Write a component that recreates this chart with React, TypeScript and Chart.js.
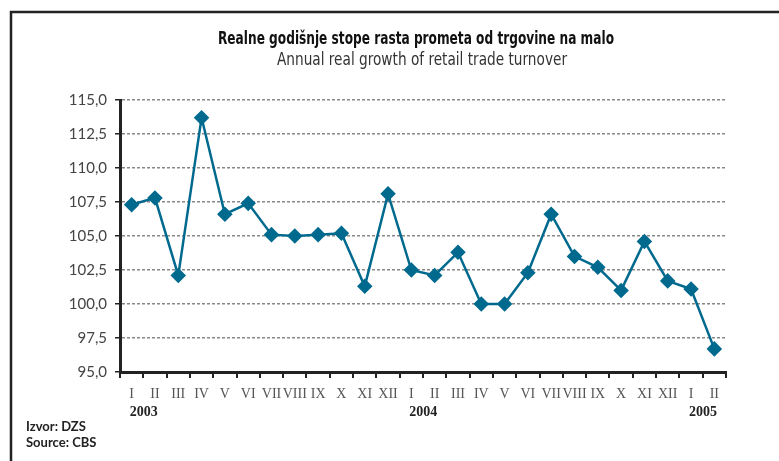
import React, { useEffect, useRef } from "react";
import { Chart, registerables } from "chart.js";

Chart.register(...registerables);

const months = ["I","II","III","IV","V","VI","VII","VIII","IX","X","XI","XII","I","II","III","IV","V","VI","VII","VIII","IX","X","XI","XII","I","II"];
const values = [107.3,107.8,102.1,113.7,106.6,107.4,105.1,105.0,105.1,105.2,101.3,108.1,102.5,102.1,103.8,100.0,100.0,102.3,106.6,103.5,102.7,101.0,104.6,101.7,101.1,96.7];
const years = [{ label: "2003", index: 0 }, { label: "2004", index: 12 }, { label: "2005", index: 24 }];
const yTicks = [95, 97.5, 100, 102.5, 105, 107.5, 110, 112.5, 115];
const titleText = "Realne godišnje stope rasta prometa od trgovine na malo";
const subtitleText = "Annual real growth of retail trade turnover";
const sourceLines = ["Izvor: DZS", "Source: CBS"];

const W = 779;
const H = 461;

function fitText(ctx: any, text: string, cx: number, cy: number, width: number) {
  const m = ctx.measureText(text).width;
  const s = width / m;
  ctx.save();
  ctx.translate(cx, cy);
  ctx.scale(s, 1);
  ctx.fillText(text, 0, 0);
  ctx.restore();
}

const decor = {
  id: "decor",
  beforeDraw(chart: any) {
    const ctx = chart.ctx;
    ctx.save();
    ctx.fillStyle = "#ffffff";
    ctx.fillRect(0, 0, W, H);
    ctx.restore();
  },
  afterDraw(chart: any) {
    const ctx = chart.ctx;
    ctx.save();
    // frame
    ctx.strokeStyle = "#222222";
    ctx.lineWidth = 2.5;
    ctx.beginPath();
    ctx.moveTo(11, H);
    ctx.lineTo(11, 12);
    ctx.lineTo(W, 12);
    ctx.stroke();
    // titles
    ctx.textAlign = "center";
    ctx.textBaseline = "middle";
    ctx.fillStyle = "#111111";
    ctx.font = "bold 17px 'DejaVu Sans Condensed', 'Liberation Sans', sans-serif";
    fitText(ctx, titleText, 416, 40, 396);
    ctx.fillStyle = "#333333";
    ctx.font = "17px 'DejaVu Sans Condensed', 'Liberation Sans', sans-serif";
    fitText(ctx, subtitleText, 422, 61, 290);
    // years
    const xs = chart.scales.x;
    ctx.textAlign = "left";
    ctx.fillStyle = "#222222";
    ctx.font = "bold 14px 'Liberation Serif', serif";
    years.forEach((y) => {
      ctx.fillText(y.label, xs.getPixelForValue(y.index) - 2, 412);
    });
    // source
    ctx.font = "bold 13px Lato, sans-serif";
    ctx.fillStyle = "#222222";
    sourceLines.forEach((s, i) => ctx.fillText(s, 26, 427 + i * 16));
    ctx.restore();
  },
};

export default function App() {
  const ref = useRef<HTMLCanvasElement>(null);
  useEffect(() => {
    document.body.style.margin = "0";
    const chart = new Chart(ref.current!, {
      type: "line",
      data: {
        labels: months,
        datasets: [
          {
            data: values,
            borderColor: "#006a8e",
            backgroundColor: "#006a8e",
            borderWidth: 2.5,
            pointStyle: "rectRot",
            pointRadius: 6,
            pointBackgroundColor: "#006a8e",
            pointBorderColor: "#006a8e",
            tension: 0,
          },
        ],
      },
      plugins: [decor],
      options: {
        animation: false,
        responsive: false,
        devicePixelRatio: 1,
        layout: { padding: { left: 0, right: 53, top: 100, bottom: 0 } },
        plugins: { legend: { display: false }, title: { display: false }, tooltip: { enabled: false } },
        scales: {
          x: {
            offset: true,
            grid: { display: true, drawOnChartArea: false, drawTicks: true, tickLength: 6, color: "#222222", offset: true, lineWidth: 2 },
            border: { display: true, color: "#222222", width: 3 },
            ticks: { color: "#555555", font: { family: "'Liberation Serif', serif", size: 14 }, padding: 8, maxRotation: 0, autoSkip: false },
            afterFit(scale: any) { scale.height = H - 372; },
          },
          y: {
            min: 95,
            max: 115,
            afterBuildTicks(scale: any) { scale.ticks = yTicks.map((v) => ({ value: v })); },
            grid: { color: (c: any) => (c.tick && c.tick.value === 95 ? "rgba(0,0,0,0)" : "#888888"), lineWidth: 1.5, tickColor: "#222222", tickLength: 5, drawTicks: true },
            border: { display: true, color: "#222222", width: 3, dash: [3, 2] },
            ticks: {
              color: "#444444",
              font: { family: "Lato, sans-serif", size: 15 },
              padding: 8,
              callback: (v: any) => Number(v).toFixed(1).replace(".", ","),
            },
            afterFit(scale: any) { scale.width = 120; },
          },
        },
      },
    });
    return () => chart.destroy();
  }, []);
  return (
    <div style={{ width: W, height: H }}>
      <canvas ref={ref} width={W} height={H} style={{ display: "block" }} />
    </div>
  );
}
